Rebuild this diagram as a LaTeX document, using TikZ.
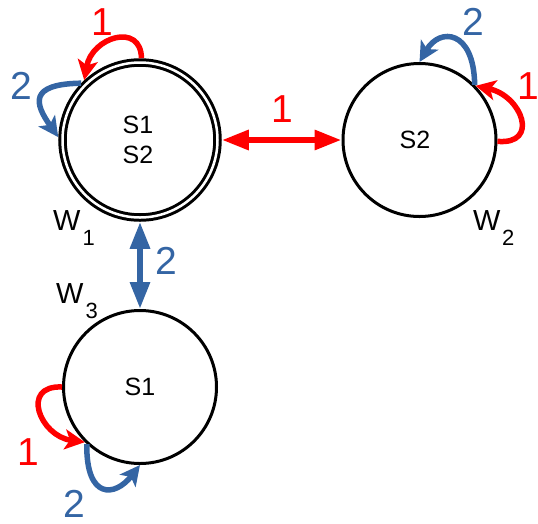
\documentclass[tikz,border=0pt]{standalone}
\usepackage{fontspec}
\setmainfont{Liberation Sans}
\usetikzlibrary{arrows.meta}
\definecolor{myred}{HTML}{FF0000}
\definecolor{myblue}{HTML}{3465A4}
\begin{document}
\begin{tikzpicture}[x=1pt,y=-1pt,
  state/.style={circle,draw,line width=3pt,minimum size=153pt,inner sep=0pt,
    font=\fontsize{25}{30}\selectfont,align=center},
  accstate/.style={state,double,double distance=2.5pt,minimum size=155pt,outer sep=4.3pt},
  selfloop/.style={line width=5.5pt,-{Stealth[length=20pt,width=20pt,inset=5pt]}},
  link/.style={line width=6pt,{Triangle[length=27pt,width=19pt]}-{Triangle[length=27pt,width=19pt]}},
  lbl/.style={inner sep=0pt,font=\fontsize{39}{40}\selectfont},
  wl/.style={inner sep=0pt,anchor=base west,font=\fontsize{29}{30}\selectfont}]
\useasboundingbox (0,0) rectangle (538,523);

% states
\node[accstate] (w1) at (140,140) {\hspace*{-4pt}S1\\\hspace*{-4pt}S2};
\node[state] (w2) at (419.5,140) {\raisebox{-2pt}{S2}\hspace*{9pt}};
\node[state] (w3) at (140,387) {S1};

% world labels
\node[wl] (w1lab) at (53,230) {W\kern2pt\raisebox{-15pt}{\fontsize{22}{22}\selectfont 1}};
\node[wl] (w2lab) at (473,230) {W\kern1.5pt\raisebox{-15pt}{\fontsize{22}{22}\selectfont 2}};
\node[wl] (w3lab) at (56,303) {W\kern2pt\raisebox{-15pt}{\fontsize{22}{22}\selectfont 3}};

% links between states
\draw[link,myred] (w1) -- (w2);
\draw[link,myblue] (w1) -- (w3);

% self loops
\draw[selfloop,myred] (w1.89) .. controls (141,22) and (92,37) .. (w1.133);
\draw[selfloop,myblue] (w1.136) .. controls (28,84) and (35,104) .. (w1.178);
\draw[selfloop,myblue] (w2.45) .. controls (474,30) and (440,27) .. (w2.90);
\draw[selfloop,myred] (w2.-1) .. controls (540,145) and (522,96) .. (w2.44);
\draw[selfloop,myred] (w3.180) .. controls (20,385) and (40,436) .. (w3.225);
\draw[selfloop,myblue] (w3.227) .. controls (86,500) and (115,497) .. (w3.270);

% agent labels
\node[lbl,myred] (a1) at (102,22) {1};
\node[lbl,myblue] (a2) at (21,86) {2};
\node[lbl,myblue] (a3) at (473,22) {2};
\node[lbl,myred] (a4) at (528,86) {1};
\node[lbl,myred] (a5) at (282,109) {1};
\node[lbl,myblue] (a6) at (166,261) {2};
\node[lbl,myred] (a7) at (28,452) {1};
\node[lbl,myblue] (a8) at (74,504) {2};
\end{tikzpicture}
\end{document}
